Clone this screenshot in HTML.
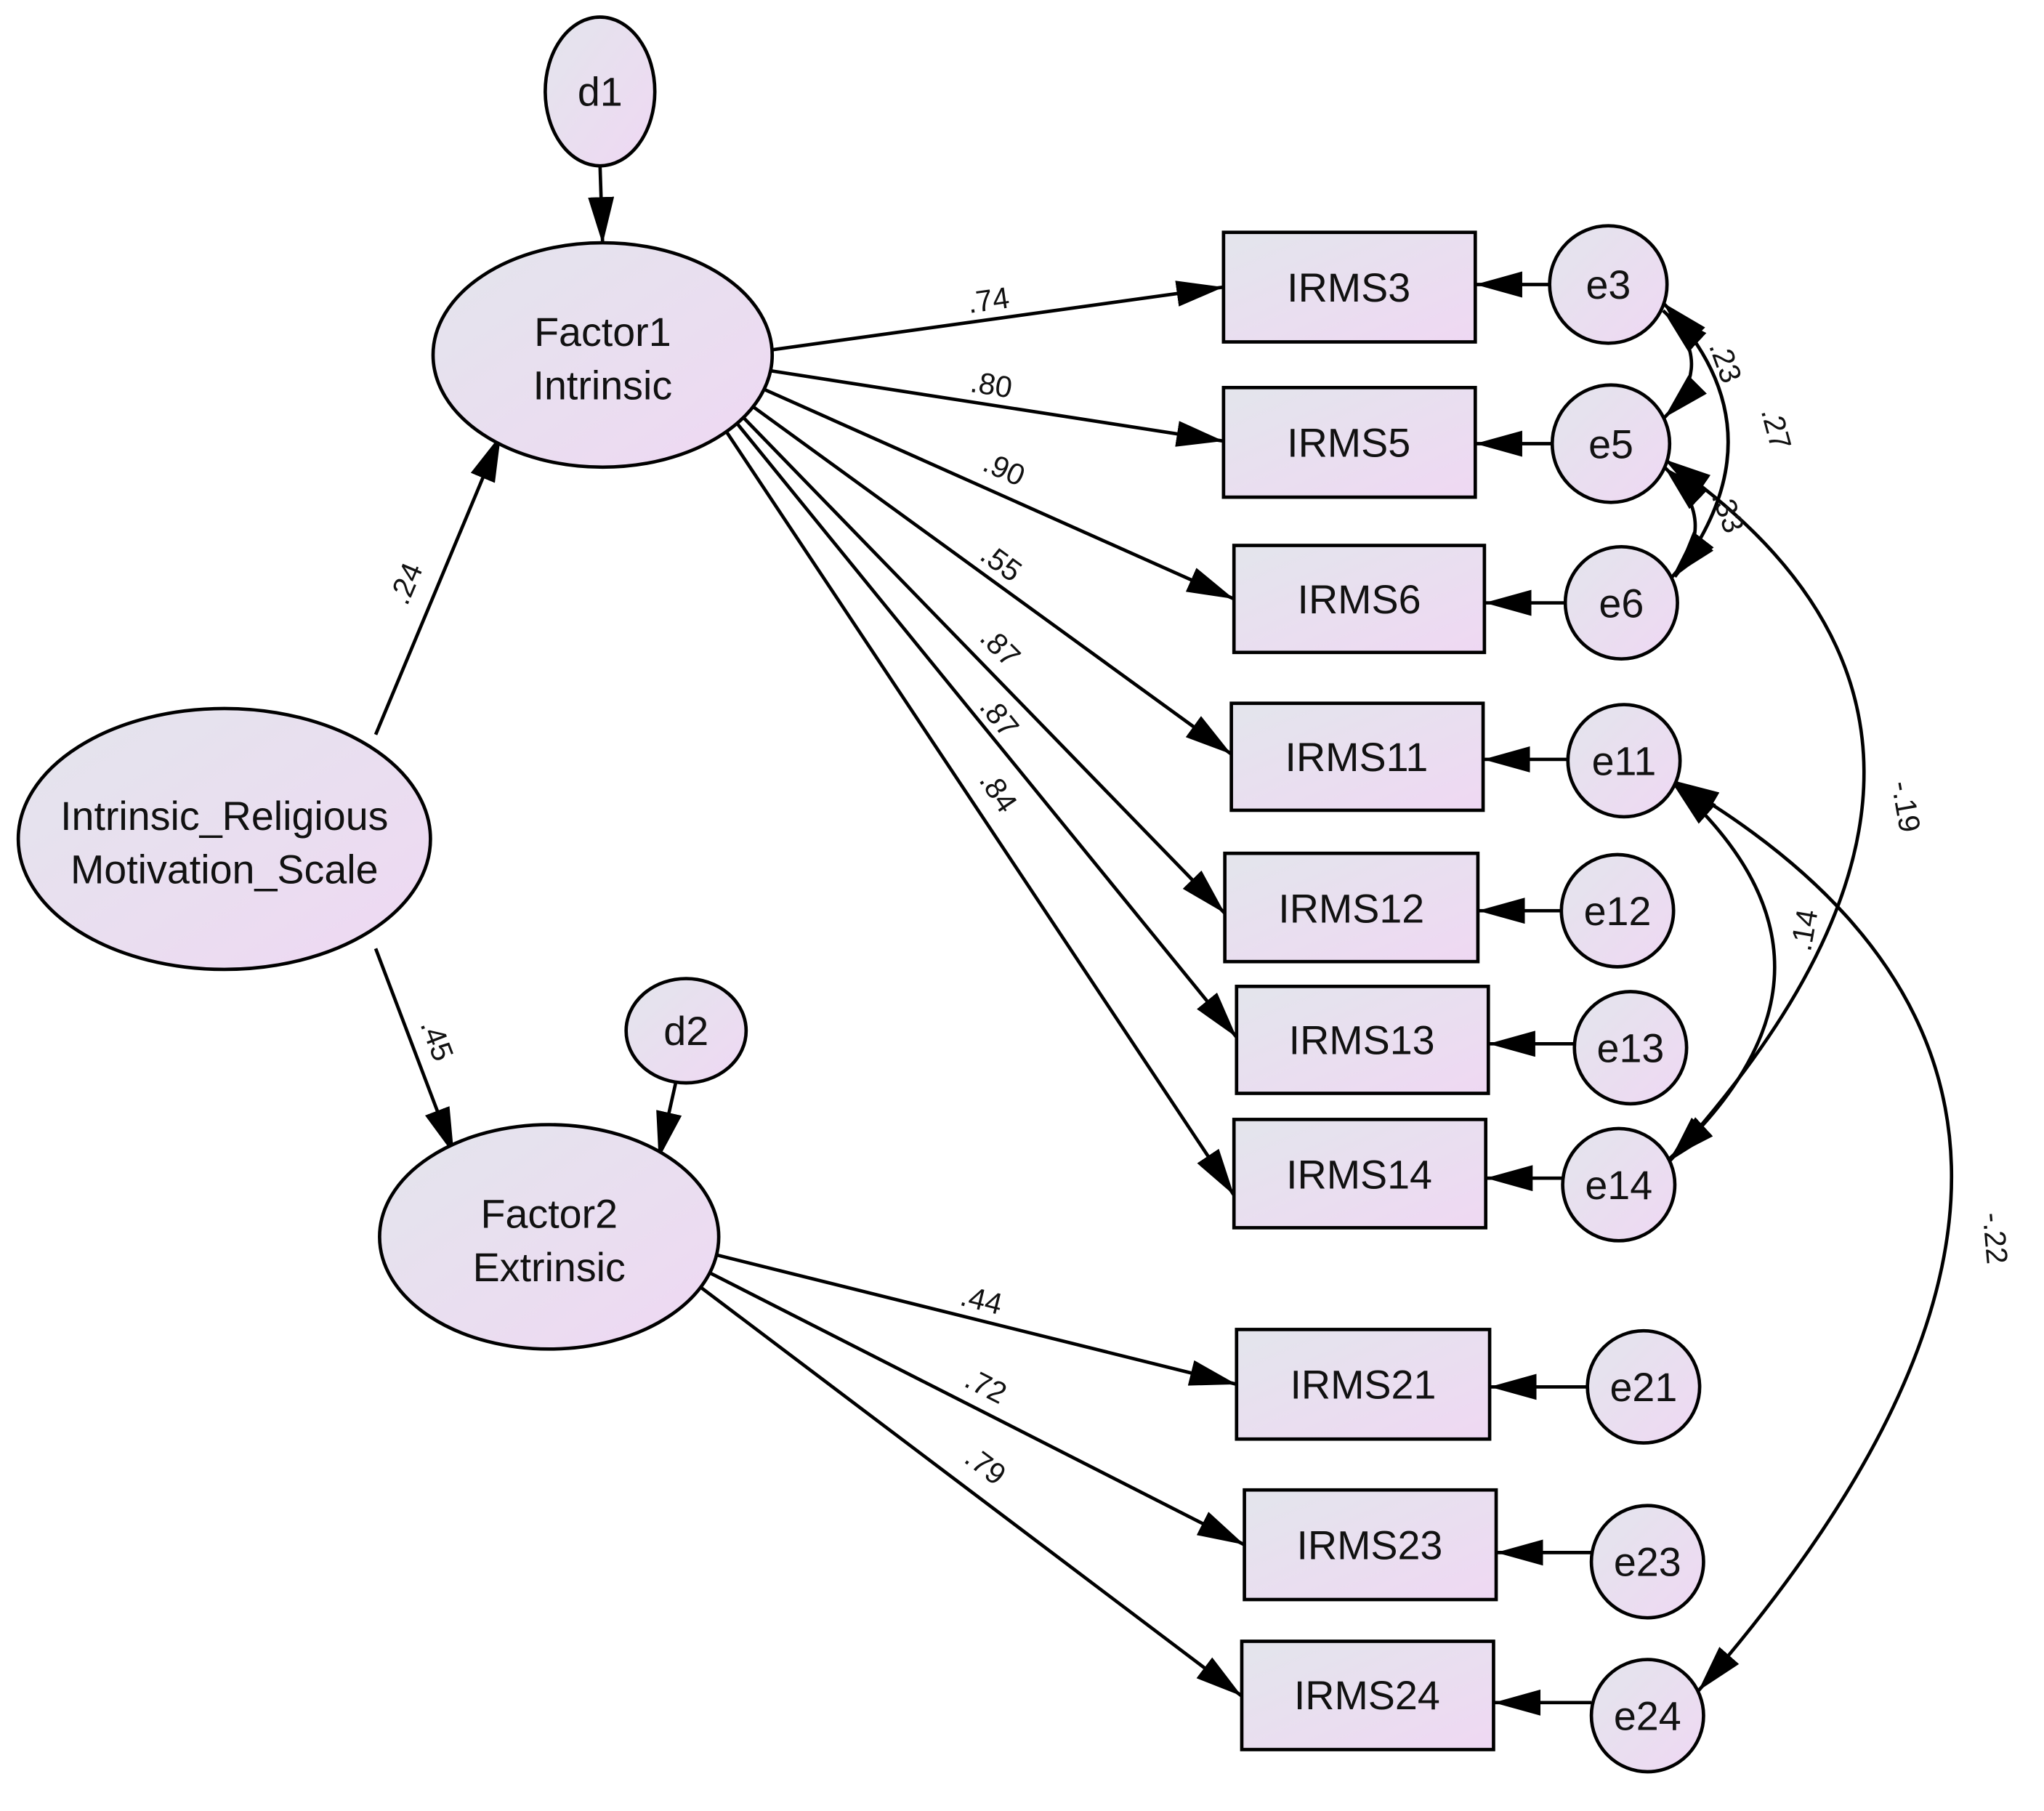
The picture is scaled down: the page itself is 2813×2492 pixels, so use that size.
<!DOCTYPE html>
<html><head><meta charset="utf-8"><style>
html,body{margin:0;padding:0;background:#fff}
svg{display:block}
text{font-family:"Liberation Sans",Arial,sans-serif;fill:#111}
</style></head><body>
<svg width="2813" height="2492" viewBox="0 0 1567 1388" xmlns="http://www.w3.org/2000/svg">
<defs>
<linearGradient id="g" x1="0" y1="0" x2="1" y2="1">
<stop offset="0" stop-color="#e3e5ec"/><stop offset="1" stop-color="#efd8f3"/>
</linearGradient>
<marker id="a" viewBox="0 0 36 20" refX="36" refY="10" markerWidth="36" markerHeight="20" markerUnits="userSpaceOnUse" orient="auto">
<path d="M0,0 L36,10 L0,20 Z" fill="#000"/>
</marker>
<marker id="b" viewBox="0 0 36 20" refX="36" refY="10" markerWidth="36" markerHeight="20" markerUnits="userSpaceOnUse" orient="auto-start-reverse">
<path d="M0,0 L36,10 L0,20 Z" fill="#000"/>
</marker>
</defs>
<g stroke="#000" stroke-width="2.6" fill="none">
<line x1="460" y1="127" x2="462" y2="187" marker-end="url(#a)"/>
<line x1="288" y1="563" x2="384" y2="333" marker-end="url(#a)"/>
<line x1="288" y1="727" x2="348" y2="885" marker-end="url(#a)"/>
<line x1="518" y1="830" x2="505" y2="888" marker-end="url(#a)"/>
<line x1="592" y1="268" x2="938" y2="220" marker-end="url(#a)"/>
<line x1="590" y1="284" x2="938" y2="338" marker-end="url(#a)"/>
<line x1="585" y1="298" x2="946" y2="459" marker-end="url(#a)"/>
<line x1="575" y1="310" x2="944" y2="578" marker-end="url(#a)"/>
<line x1="568" y1="318" x2="939" y2="700" marker-end="url(#a)"/>
<line x1="563" y1="322" x2="948" y2="795" marker-end="url(#a)"/>
<line x1="555" y1="328" x2="946" y2="916" marker-end="url(#a)"/>
<line x1="550" y1="962" x2="948" y2="1061" marker-end="url(#a)"/>
<line x1="543" y1="975" x2="954" y2="1184" marker-end="url(#a)"/>
<line x1="535" y1="985" x2="952" y2="1300" marker-end="url(#a)"/>
<line x1="1188" y1="218" x2="1131" y2="218" marker-end="url(#a)"/>
<line x1="1190" y1="340" x2="1131" y2="340" marker-end="url(#a)"/>
<line x1="1200" y1="462" x2="1138" y2="462" marker-end="url(#a)"/>
<line x1="1202" y1="582" x2="1137" y2="582" marker-end="url(#a)"/>
<line x1="1197" y1="698" x2="1133" y2="698" marker-end="url(#a)"/>
<line x1="1207" y1="800" x2="1141" y2="800" marker-end="url(#a)"/>
<line x1="1198" y1="903" x2="1139" y2="903" marker-end="url(#a)"/>
<line x1="1217" y1="1063" x2="1142" y2="1063" marker-end="url(#a)"/>
<line x1="1220" y1="1190" x2="1147" y2="1190" marker-end="url(#a)"/>
<line x1="1220" y1="1305" x2="1145" y2="1305" marker-end="url(#a)"/>
<path d="M1275,238 Q1318,278 1276,320" marker-start="url(#b)" marker-end="url(#a)"/>
<path d="M1275,232 Q1370,330 1284,442" marker-start="url(#b)" marker-end="url(#a)"/>
<path d="M1276,358 Q1320,400 1282,442" marker-start="url(#b)" marker-end="url(#a)"/>
<path d="M1276,352 Q1580,560 1280,890" marker-start="url(#b)" marker-end="url(#a)"/>
<path d="M1282,600 Q1440,740 1280,888" marker-start="url(#b)" marker-end="url(#a)"/>
<path d="M1282,598 Q1700,840 1302,1296" marker-start="url(#b)" marker-end="url(#a)"/>
</g>
<g stroke="#000" stroke-width="2.6" fill="url(#g)">
<ellipse cx="460" cy="70" rx="42" ry="57"/>
<ellipse cx="462" cy="272" rx="130" ry="86"/>
<ellipse cx="172" cy="643" rx="158" ry="100"/>
<ellipse cx="526" cy="790" rx="46" ry="40"/>
<ellipse cx="421" cy="948" rx="130" ry="86"/>
<rect x="938" y="178" width="193" height="84"/>
<rect x="938" y="297" width="193" height="84"/>
<rect x="946" y="418" width="192" height="82"/>
<rect x="944" y="539" width="193" height="82"/>
<rect x="939" y="654" width="194" height="83"/>
<rect x="948" y="756" width="193" height="82"/>
<rect x="946" y="858" width="193" height="83"/>
<rect x="948" y="1019" width="194" height="84"/>
<rect x="954" y="1142" width="193" height="84"/>
<rect x="952" y="1258" width="193" height="83"/>
<circle cx="1233" cy="218" r="45"/>
<circle cx="1235" cy="340" r="45"/>
<circle cx="1243" cy="462" r="43"/>
<circle cx="1245" cy="583" r="43"/>
<circle cx="1240" cy="698" r="43"/>
<circle cx="1250" cy="803" r="43"/>
<circle cx="1241" cy="908" r="43"/>
<circle cx="1260" cy="1063" r="43"/>
<circle cx="1263" cy="1197" r="43"/>
<circle cx="1263" cy="1315" r="43"/>
</g>
<g font-size="31" text-anchor="middle">
<text x="460" y="81">d1</text>
<text x="462" y="265">Factor1</text><text x="462" y="306">Intrinsic</text>
<text x="172" y="636">Intrinsic_Religious</text><text x="172" y="677">Motivation_Scale</text>
<text x="526" y="801">d2</text>
<text x="421" y="941">Factor2</text><text x="421" y="982">Extrinsic</text>
<text x="1034" y="231">IRMS3</text>
<text x="1034" y="350">IRMS5</text>
<text x="1042" y="470">IRMS6</text>
<text x="1040" y="591">IRMS11</text>
<text x="1036" y="707">IRMS12</text>
<text x="1044" y="808">IRMS13</text>
<text x="1042" y="911">IRMS14</text>
<text x="1045" y="1072">IRMS21</text>
<text x="1050" y="1195">IRMS23</text>
<text x="1048" y="1310">IRMS24</text>
<text x="1233" y="229">e3</text>
<text x="1235" y="351">e5</text>
<text x="1243" y="473">e6</text>
<text x="1245" y="594">e11</text>
<text x="1240" y="709">e12</text>
<text x="1250" y="814">e13</text>
<text x="1241" y="919">e14</text>
<text x="1260" y="1074">e21</text>
<text x="1263" y="1208">e23</text>
<text x="1263" y="1326">e24</text>
</g>
<g font-size="23">
<text transform="translate(743,240) rotate(-8)">.74</text>
<text transform="translate(743,300) rotate(9)">.80</text>
<text transform="translate(752,360) rotate(24)">.90</text>
<text transform="translate(750,428) rotate(36)">.55</text>
<text transform="translate(750,490) rotate(45)">.87</text>
<text transform="translate(750,542) rotate(51)">.87</text>
<text transform="translate(750,598) rotate(56)">.84</text>
<text transform="translate(312,465) rotate(-67)">.24</text>
<text transform="translate(322,785) rotate(69)">.45</text>
<text transform="translate(735,1000) rotate(14)">.44</text>
<text transform="translate(738,1062) rotate(27)">.72</text>
<text transform="translate(738,1120) rotate(37)">.79</text>
<text transform="translate(1310,265) rotate(70)">.23</text>
<text transform="translate(1350,315) rotate(75)">.27</text>
<text transform="translate(1312,380) rotate(70)">.33</text>
<text transform="translate(1450,600) rotate(80)">-.19</text>
<text transform="translate(1388,730) rotate(-80)">.14</text>
<text transform="translate(1520,930) rotate(85)">-.22</text>
</g>
</svg>
</body></html>
